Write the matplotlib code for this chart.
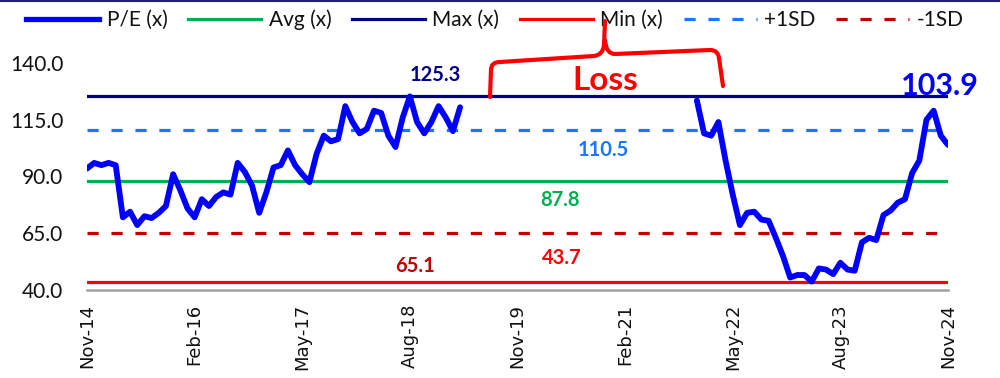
import numpy as np
import pandas as pd
import matplotlib
matplotlib.use('Agg')
import matplotlib.pyplot as plt
from matplotlib.lines import Line2D
from matplotlib.path import Path
from matplotlib.patches import PathPatch
from matplotlib.transforms import Affine2D

# ---------------- data ----------------
months = pd.date_range('2014-11-01', periods=121, freq='MS')

pe_before_loss = [93.5, 96, 95, 96, 95, 72, 74.5, 68.6, 72.5, 71.7,
                  74, 77, 91, 84, 76, 72, 80, 77, 81, 83,
                  82, 96, 92, 86, 74, 83, 94, 95, 101.5, 95,
                  91, 87.5, 100, 108, 105.5, 106.5, 121, 114, 109, 111,
                  119, 118, 108, 103, 116, 125.3, 114, 109, 114, 121,
                  116, 110, 120.5]
loss_months = 32
pe_after_loss = [123.5, 109, 108, 114, 97, 82, 68.6, 74, 74.5, 71,
                 70.5, 63, 55, 45.5, 46.6, 46.6, 43.7, 49.5, 49, 47,
                 52, 49, 48.5, 61, 63, 62, 73, 75, 78.5, 80,
                 91.5, 97, 115, 119, 108, 103.9]
pe = pe_before_loss + [np.nan] * loss_months + pe_after_loss

avg_pe = 87.8
max_pe = 125.3
min_pe = 43.7
plus_sd = 110.5
minus_sd = 65.1
last_pe = 103.9

y_ticks = [40, 65, 90, 115, 140]
tick_every = 15

# ---------------- style ----------------
C_PE = '#0000FF'
C_AVG = '#00B050'
C_MAX = '#00008B'
C_MIN = '#FF0000'
C_PSD = '#1A75FF'
C_MSD = '#C00000'
DASH = (0, (3.5, 4))

fig = plt.figure(figsize=(10, 3.78), dpi=100)
ax = fig.add_axes([0.087, 1 - 290 / 378, 0.861, (290 - 63) / 378])

x = np.arange(len(months))
ax.plot(x, pe, color=C_PE, lw=4.2, solid_joinstyle='round',
        solid_capstyle='round', zorder=6)
ax.axhline(avg_pe, color=C_AVG, lw=2.3, zorder=3)
ax.axhline(max_pe, color=C_MAX, lw=2.3, zorder=3)
ax.axhline(min_pe, color=C_MIN, lw=2.3, zorder=3)
ax.axhline(plus_sd, color=C_PSD, lw=2.3, ls=DASH, zorder=3)
ax.axhline(minus_sd, color=C_MSD, lw=2.3, ls=DASH, zorder=3)

ax.set_xlim(0, len(months) - 1)
ax.set_ylim(y_ticks[0], y_ticks[-1])
ax.set_yticks(y_ticks)
ax.set_yticklabels([f'{v:.1f}' for v in y_ticks], family='Lato', fontsize=15,
                   color='#111111')
ax.set_xticks(x[::tick_every])
ax.set_xticklabels(months[::tick_every].strftime('%b-%y'), rotation=90,
                   family='DejaVu Sans', fontsize=13, color='#111111')
ax.tick_params(axis='both', length=0)
ax.tick_params(axis='y', pad=17)
ax.tick_params(axis='x', pad=10)
for s in ['top', 'right', 'left']:
    ax.spines[s].set_visible(False)
ax.spines['bottom'].set_color('#A0A0A0')
ax.spines['bottom'].set_linewidth(1.8)

# value labels
lab = dict(ha='center', va='center', family='Lato', fontweight='bold',
           clip_on=False, zorder=8)
ax.text(48.6, 134.7, f'{max_pe:.1f}', color=C_MAX, fontsize=14.5, **lab)
ax.text(71.9, 101.7, f'{plus_sd:.1f}', color=C_PSD, fontsize=14.5, **lab)
ax.text(65.9, 79.6, f'{avg_pe:.1f}', color=C_AVG, fontsize=14.5, **lab)
ax.text(45.7, 50.5, f'{minus_sd:.1f}', color=C_MSD, fontsize=14.5, **lab)
ax.text(66.2, 54.1, f'{min_pe:.1f}', color=C_MIN, fontsize=14.5, **lab)
ax.text(118.9, 130.0, f'{last_pe:.1f}', color=C_PE, fontsize=22, **lab)
ax.text(72.3, 132.5, 'Loss', color=C_MIN, fontsize=24, **lab)

# curly bracket (annotation) in pixel coordinates
px = Affine2D().scale(1 / 1000, -1 / 378).translate(0, 1) + fig.transFigure
left = Path([(490, 97), (491, 70), (491, 62), (500, 62), (594, 56),
             (603, 55), (604, 45), (605, 21)],
            [Path.MOVETO, Path.LINETO, Path.CURVE3, Path.CURVE3, Path.LINETO,
             Path.CURVE3, Path.CURVE3, Path.LINETO])
right = Path([(605, 40), (606, 54), (615, 54), (710, 50), (718, 50),
              (719, 58), (723, 86)],
             [Path.MOVETO, Path.CURVE3, Path.CURVE3, Path.LINETO, Path.CURVE3,
              Path.CURVE3, Path.LINETO])
for p in (left, right):
    fig.add_artist(PathPatch(p, fill=False, edgecolor=C_MIN, lw=3,
                             capstyle='round', joinstyle='round',
                             transform=px, zorder=9))

# top border
fig.add_artist(Line2D([0, 1], [0.998, 0.998], color='#1F1F7A', lw=1.5,
                      transform=fig.transFigure))

# legend
handles = [Line2D([], [], color=C_PE, lw=3.8),
           Line2D([], [], color=C_AVG, lw=2.3),
           Line2D([], [], color=C_MAX, lw=2.3),
           Line2D([], [], color=C_MIN, lw=2.3),
           Line2D([], [], color=C_PSD, lw=2.3, ls=DASH),
           Line2D([], [], color=C_MSD, lw=2.3, ls=DASH)]
labels = ['P/E (x)', 'Avg (x)', 'Max (x)', 'Min (x)', '+1SD', '-1SD']
leg = fig.legend(handles, labels, loc='center', bbox_to_anchor=(0.495, 1 - 20 / 378),
                 ncol=6, frameon=False, prop={'family': 'Lato', 'size': 15},
                 handlelength=3.5, handletextpad=0.35, columnspacing=1.0,
                 borderpad=0, borderaxespad=0)
for t in leg.get_texts():
    t.set_color('#111111')

fig.savefig('out.png', dpi=100)
